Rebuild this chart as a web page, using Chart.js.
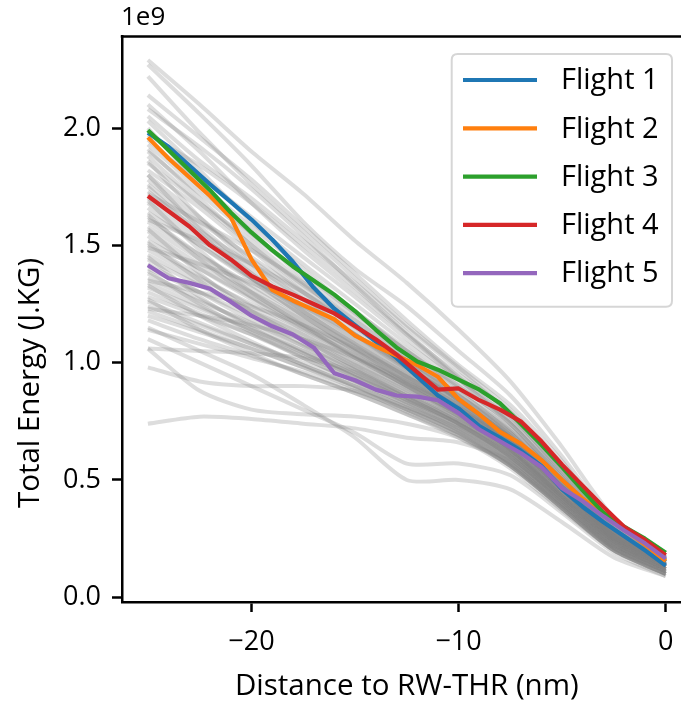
<!DOCTYPE html>
<html>
<head>
<meta charset="utf-8">
<script src="https://cdn.jsdelivr.net/npm/chart.js@4.4.0/dist/chart.umd.min.js"></script>
<style>
  html, body { margin: 0; padding: 0; background: #fff; overflow: hidden; }
  #wrap { width: 700px; height: 701px; }
</style>
</head>
<body>
<div id="wrap"><canvas id="c" width="700" height="701"></canvas></div>
<script>
// ---------- DATA (values in units of 1e9 J/kg) ----------
const distanceFine = [-25,-24,-23,-22,-21,-20,-19,-18,-17,-16,-15,-14,-13,-12,-11,-10,-9,-8,-7,-6,-5,-4,-3,-2,-1,0];
const flightLabels = ['Flight 1','Flight 2','Flight 3','Flight 4','Flight 5'];
const flight1 = [1.98,1.92,1.84,1.76,1.685,1.61,1.525,1.43,1.32,1.23,1.16,1.09,1.02,0.94,0.86,0.805,0.73,0.68,0.625,0.56,0.46,0.385,0.32,0.26,0.20,0.135];
const flight2 = [1.96,1.87,1.79,1.71,1.62,1.44,1.31,1.265,1.225,1.185,1.115,1.07,1.03,0.99,0.94,0.845,0.78,0.705,0.655,0.585,0.50,0.42,0.355,0.29,0.225,0.155];
const flight3 = [1.99,1.905,1.82,1.735,1.64,1.555,1.48,1.41,1.35,1.29,1.22,1.14,1.065,1.005,0.97,0.928,0.885,0.827,0.74,0.65,0.555,0.455,0.36,0.30,0.25,0.19];
const flight4 = [1.71,1.645,1.58,1.50,1.44,1.37,1.325,1.29,1.25,1.21,1.155,1.10,1.035,0.96,0.885,0.89,0.84,0.80,0.75,0.665,0.565,0.475,0.385,0.30,0.245,0.18];
const flight5 = [1.415,1.36,1.34,1.315,1.26,1.20,1.155,1.12,1.065,0.955,0.925,0.885,0.86,0.855,0.84,0.785,0.715,0.665,0.615,0.555,0.465,0.41,0.345,0.285,0.23,0.165];

// other flights (grey), sampled every 2.5 nm
const distanceCoarse = [-25,-22.5,-20,-17.5,-15,-12.5,-10,-7.5,-5,-2.5,0];
const g01 = [2.29,2.10,1.90,1.72,1.52,1.34,1.14,0.92,0.64,0.34,0.19];
const g02 = [2.27,2.06,1.84,1.60,1.40,1.24,1.05,0.86,0.60,0.32,0.18];
const g03 = [2.22,1.98,1.76,1.56,1.36,1.16,0.98,0.80,0.56,0.31,0.17];
const g04 = [2.14,1.96,1.78,1.58,1.38,1.18,0.99,0.82,0.58,0.30,0.18];
const g05 = [2.10,1.90,1.68,1.48,1.30,1.12,0.95,0.79,0.55,0.30,0.17];
const g06 = [2.05,1.86,1.70,1.52,1.34,1.15,0.97,0.78,0.53,0.29,0.16];
const g07 = [2.03,1.82,1.60,1.42,1.25,1.08,0.92,0.75,0.52,0.28,0.16];
const g08 = [1.95,1.76,1.58,1.40,1.22,1.06,0.90,0.74,0.50,0.27,0.15];
const g09 = [1.93,1.74,1.56,1.36,1.20,1.04,0.88,0.70,0.48,0.26,0.15];
const g10 = [1.90,1.72,1.54,1.38,1.22,1.05,0.89,0.72,0.49,0.27,0.16];
const g11 = [1.88,1.68,1.50,1.33,1.18,1.02,0.86,0.70,0.47,0.26,0.14];
const g12 = [1.85,1.68,1.52,1.34,1.16,1.00,0.84,0.68,0.46,0.25,0.14];
const g13 = [1.82,1.66,1.48,1.30,1.14,0.98,0.84,0.69,0.48,0.27,0.15];
const g14 = [1.80,1.62,1.44,1.28,1.12,0.97,0.83,0.67,0.46,0.25,0.13];
const g15 = [1.78,1.60,1.45,1.30,1.15,1.00,0.86,0.71,0.50,0.28,0.16];
const g16 = [1.76,1.58,1.40,1.24,1.10,0.96,0.82,0.66,0.45,0.25,0.14];
const g17 = [1.73,1.56,1.42,1.27,1.12,0.98,0.84,0.68,0.47,0.26,0.15];
const g18 = [1.70,1.54,1.38,1.22,1.08,0.94,0.80,0.65,0.44,0.24,0.13];
const g19 = [1.68,1.52,1.36,1.24,1.10,0.96,0.82,0.66,0.46,0.26,0.15];
const g20 = [1.66,1.50,1.35,1.20,1.06,0.92,0.79,0.64,0.43,0.24,0.12];
const g21 = [1.64,1.50,1.36,1.22,1.08,0.94,0.81,0.67,0.47,0.27,0.16];
const g22 = [1.62,1.46,1.32,1.18,1.05,0.92,0.79,0.64,0.44,0.25,0.14];
const g23 = [1.60,1.46,1.33,1.20,1.07,0.94,0.82,0.68,0.48,0.28,0.17];
const g24 = [1.58,1.44,1.30,1.16,1.03,0.90,0.78,0.63,0.43,0.24,0.13];
const g25 = [1.56,1.42,1.30,1.18,1.05,0.92,0.80,0.66,0.46,0.26,0.15];
const g26 = [1.54,1.40,1.27,1.14,1.02,0.90,0.77,0.62,0.42,0.23,0.12];
const g27 = [1.52,1.40,1.28,1.16,1.04,0.91,0.79,0.65,0.45,0.26,0.15];
const g28 = [1.50,1.37,1.24,1.12,1.00,0.88,0.76,0.62,0.42,0.23,0.12];
const g29 = [1.48,1.36,1.25,1.14,1.02,0.90,0.78,0.64,0.44,0.25,0.14];
const g30 = [1.46,1.34,1.22,1.10,0.98,0.87,0.75,0.61,0.41,0.23,0.12];
const g31 = [1.44,1.33,1.22,1.12,1.00,0.89,0.77,0.63,0.44,0.25,0.15];
const g32 = [1.42,1.30,1.18,1.07,0.96,0.85,0.74,0.60,0.41,0.22,0.11];
const g33 = [1.40,1.30,1.20,1.10,0.99,0.88,0.77,0.63,0.43,0.24,0.14];
const g34 = [1.38,1.27,1.16,1.05,0.95,0.84,0.73,0.59,0.40,0.22,0.12];
const g35 = [1.36,1.26,1.17,1.07,0.97,0.86,0.75,0.62,0.43,0.25,0.14];
const g36 = [1.34,1.24,1.14,1.04,0.94,0.83,0.72,0.58,0.39,0.21,0.11];
const g37 = [1.32,1.23,1.14,1.05,0.95,0.85,0.74,0.61,0.42,0.24,0.13];
const g38 = [1.30,1.21,1.12,1.02,0.92,0.82,0.71,0.57,0.39,0.21,0.10];
const g39 = [1.28,1.20,1.12,1.03,0.94,0.84,0.74,0.61,0.42,0.24,0.14];
const g40 = [1.26,1.17,1.08,0.99,0.90,0.80,0.70,0.57,0.38,0.21,0.11];
const g41 = [1.24,1.16,1.08,1.00,0.92,0.83,0.73,0.60,0.41,0.23,0.13];
const g42 = [1.22,1.14,1.06,0.98,0.89,0.79,0.69,0.56,0.38,0.20,0.10];
const g43 = [1.20,1.13,1.06,0.98,0.90,0.81,0.72,0.59,0.40,0.22,0.12];
const g44 = [1.18,1.10,1.03,0.95,0.87,0.78,0.68,0.55,0.37,0.20,0.10];
const g45 = [1.14,1.08,1.02,0.96,0.88,0.80,0.70,0.57,0.39,0.21,0.11];
const g46 = [1.06,1.05,1.04,1.02,0.96,0.85,0.74,0.60,0.42,0.23,0.13];
const g47 = [1.06,0.88,0.80,0.78,0.77,0.74,0.68,0.56,0.38,0.20,0.10];
const g48 = [0.98,0.92,0.90,0.90,0.88,0.80,0.70,0.56,0.38,0.20,0.10];
const g49 = [0.74,0.77,0.76,0.74,0.72,0.68,0.66,0.58,0.40,0.21,0.11];
const g50 = [1.10,1.00,0.90,0.80,0.70,0.57,0.57,0.52,0.36,0.19,0.09];
const g51 = [1.15,1.05,0.95,0.82,0.68,0.50,0.50,0.46,0.32,0.17,0.09];
const g52 = [1.75,1.55,1.36,1.20,1.06,0.93,0.80,0.66,0.46,0.26,0.15];
const g53 = [1.69,1.48,1.30,1.16,1.02,0.90,0.78,0.63,0.43,0.24,0.13];
const g54 = [1.63,1.44,1.28,1.15,1.03,0.91,0.80,0.66,0.47,0.27,0.16];
const g55 = [1.57,1.38,1.22,1.10,0.98,0.86,0.75,0.62,0.43,0.24,0.13];
const g56 = [1.51,1.35,1.20,1.08,0.97,0.86,0.76,0.63,0.44,0.25,0.14];
const g57 = [1.45,1.28,1.15,1.04,0.94,0.84,0.74,0.60,0.41,0.22,0.12];
const g58 = [1.39,1.25,1.13,1.02,0.92,0.82,0.72,0.59,0.40,0.22,0.12];
const g59 = [1.33,1.20,1.09,0.99,0.90,0.81,0.71,0.58,0.40,0.22,0.11];
const g60 = [1.27,1.14,1.04,0.95,0.87,0.78,0.69,0.56,0.38,0.20,0.10];
const g61 = [1.86,1.62,1.42,1.26,1.12,0.98,0.85,0.70,0.49,0.28,0.16];
const g62 = [1.80,1.57,1.38,1.22,1.08,0.95,0.82,0.68,0.47,0.26,0.15];
const g63 = [1.99,1.80,1.62,1.45,1.28,1.10,0.93,0.76,0.53,0.29,0.17];
const g64 = [2.00,1.76,1.55,1.38,1.21,1.05,0.90,0.74,0.51,0.28,0.16];
const g65 = [1.91,1.70,1.50,1.32,1.16,1.01,0.87,0.72,0.50,0.28,0.16];
const g66 = [1.72,1.60,1.48,1.34,1.18,1.02,0.86,0.69,0.47,0.26,0.15];
const g67 = [1.61,1.52,1.42,1.30,1.16,1.00,0.84,0.68,0.47,0.26,0.15];
const g68 = [1.49,1.42,1.34,1.24,1.12,0.98,0.84,0.68,0.47,0.26,0.15];
const g69 = [1.35,1.30,1.24,1.16,1.06,0.94,0.81,0.66,0.46,0.26,0.15];
const g70 = [1.23,1.20,1.16,1.10,1.02,0.92,0.80,0.66,0.46,0.26,0.14];
const g71 = [2.08,1.92,1.74,1.54,1.33,1.13,0.94,0.77,0.54,0.30,0.17];
const g72 = [1.97,1.84,1.68,1.50,1.32,1.12,0.93,0.74,0.51,0.28,0.16];
const greyFlights = [g01,g02,g03,g04,g05,g06,g07,g08,g09,g10,g11,g12,g13,g14,g15,g16,g17,g18,
  g19,g20,g21,g22,g23,g24,g25,g26,g27,g28,g29,g30,g31,g32,g33,g34,g35,g36,g37,g38,g39,g40,
  g41,g42,g43,g44,g45,g46,g47,g48,g49,g50,g51,g52,g53,g54,g55,g56,g57,g58,g59,g60,g61,g62,
  g63,g64,g65,g66,g67,g68,g69,g70,g71,g72];

const xTickValues = [-20, -10, 0];
const yTickValues = [0.0, 0.5, 1.0, 1.5, 2.0];
const xAxisTitle = 'Distance to RW-THR (nm)';
const yAxisTitle = 'Total Energy (J.KG)';
const yOffsetLabel = '1e9';

// ---------- STYLE ----------
const flightColors = ['#1f77b4','#ff7f0e','#2ca02c','#d62728','#9467bd'];
const FONT = '"Open Sans", "Noto Sans", sans-serif';

const toPoints = (xs, ys) => xs.map((x, i) => ({x: x, y: ys[i]}));

const datasets = [];
[flight1, flight2, flight3, flight4, flight5].forEach((ys, i) => {
  datasets.push({
    label: flightLabels[i],
    data: toPoints(distanceFine, ys),
    borderColor: flightColors[i],
    borderWidth: 4.2,
    order: 5 - i,
    tension: 0,
    borderJoinStyle: 'round',
  });
});
greyFlights.forEach((ys, i) => {
  datasets.push({
    label: '_grey' + i,
    data: toPoints(distanceCoarse, ys),
    borderColor: 'rgba(128,128,128,0.27)',
    borderWidth: 4,
    order: 10,
    tension: 0.25,
    borderJoinStyle: 'round',
  });
});

const framePlugin = {
  id: 'frame',
  afterDatasetsDraw(chart) {
    const ctx = chart.ctx;
    const a = chart.chartArea;
    ctx.save();
    // top and right spines
    ctx.strokeStyle = '#000';
    ctx.lineWidth = 2.5;
    ctx.beginPath();
    ctx.moveTo(a.left - 1.25, a.top);
    ctx.lineTo(a.right, a.top);
    ctx.lineTo(a.right, a.bottom);
    ctx.stroke();

    // legend (upper right)
    const bx = 451.7, by = 54, bw = 220.3, bh = 252.7, r = 6;
    ctx.beginPath();
    ctx.moveTo(bx + r, by);
    ctx.lineTo(bx + bw - r, by);
    ctx.quadraticCurveTo(bx + bw, by, bx + bw, by + r);
    ctx.lineTo(bx + bw, by + bh - r);
    ctx.quadraticCurveTo(bx + bw, by + bh, bx + bw - r, by + bh);
    ctx.lineTo(bx + r, by + bh);
    ctx.quadraticCurveTo(bx, by + bh, bx, by + bh - r);
    ctx.lineTo(bx, by + r);
    ctx.quadraticCurveTo(bx, by, bx + r, by);
    ctx.closePath();
    ctx.fillStyle = 'rgba(255,255,255,0.8)';
    ctx.fill();
    ctx.strokeStyle = '#d6d6d6';
    ctx.lineWidth = 2;
    ctx.stroke();

    const flights = chart.data.datasets.filter(d => !d.label.startsWith('_'));
    ctx.font = '29px ' + FONT;
    ctx.textAlign = 'left';
    ctx.textBaseline = 'middle';
    flights.forEach((d, i) => {
      const y = 80 + i * 48.3;
      ctx.strokeStyle = d.borderColor;
      ctx.lineWidth = 4.2;
      ctx.beginPath();
      ctx.moveTo(463, y);
      ctx.lineTo(537, y);
      ctx.stroke();
      ctx.fillStyle = '#000';
      ctx.fillText(d.label, 561, y + 1);
    });

    // offset text
    ctx.fillStyle = '#000';
    ctx.font = '26px ' + FONT;
    ctx.textBaseline = 'middle';
    ctx.fillText(yOffsetLabel, 121, 18);

    // axis titles
    ctx.font = '29.5px ' + FONT;
    ctx.textAlign = 'center';
    ctx.textBaseline = 'middle';
    ctx.fillText(xAxisTitle, (a.left + a.right) / 2, 687);
    ctx.save();
    ctx.translate(31, 383);
    ctx.rotate(-Math.PI / 2);
    ctx.fillText(yAxisTitle, 0, 0);
    ctx.restore();
    ctx.restore();
  }
};

const minus = v => (v < 0 ? '\u2212' + Math.abs(v) : String(v));

new Chart(document.getElementById('c'), {
  type: 'line',
  data: { datasets },
  options: {
    responsive: false,
    animation: false,
    events: [],
    layout: { padding: { top: 36.5, right: 8.4, left: 0, bottom: 0 } },
    elements: { point: { radius: 0 } },
    plugins: { legend: { display: false }, tooltip: { enabled: false } },
    scales: {
      x: {
        type: 'linear',
        min: -26.25,
        max: 1.25,
        afterFit(s) { s.height = 99; },
        afterBuildTicks(s) { s.ticks = xTickValues.map(v => ({value: v})); },
        ticks: {
          callback: v => minus(v),
          color: '#000',
          font: { family: FONT, size: 27 },
          padding: 14,
          maxRotation: 0,
        },
        grid: { display: true, drawOnChartArea: false, drawTicks: true, tickLength: 10, tickWidth: 2.5, tickColor: '#000' },
        border: { display: true, color: '#000', width: 2.5 },
        title: { display: false },
      },
      y: {
        type: 'linear',
        min: -0.02,
        max: 2.39,
        afterFit(s) { s.width = 122; },
        afterBuildTicks(s) { s.ticks = yTickValues.map(v => ({value: v})); },
        ticks: {
          callback: v => Number(v).toFixed(1),
          color: '#000',
          font: { family: FONT, size: 27 },
          padding: 11,
        },
        grid: { display: true, drawOnChartArea: false, drawTicks: true, tickLength: 10, tickWidth: 2.5, tickColor: '#000' },
        border: { display: true, color: '#000', width: 2.5 },
        title: { display: false },
      }
    }
  },
  plugins: [framePlugin]
});
</script>
</body>
</html>
